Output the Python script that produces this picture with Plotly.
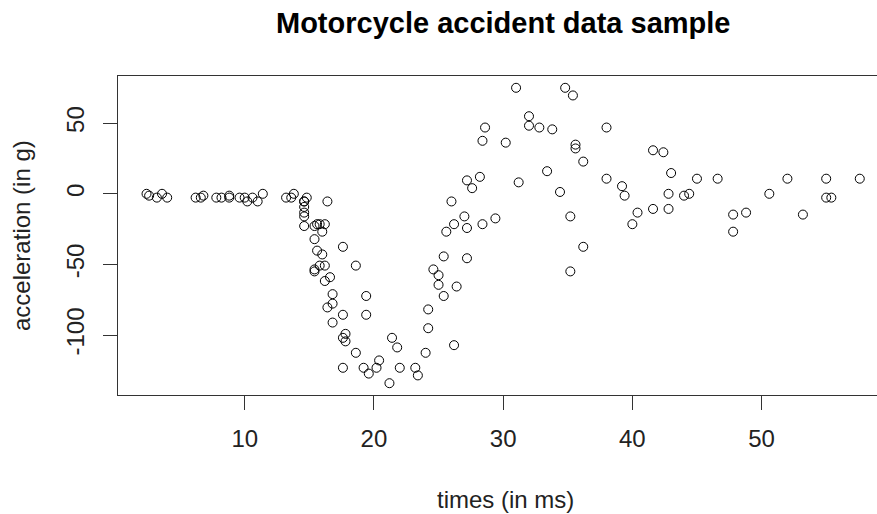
import plotly.graph_objects as go

times = [2.4, 2.6, 3.2, 3.6, 4.0, 6.2, 6.6, 6.8, 7.8, 8.2, 8.8, 8.8, 9.6, 10.0, 10.2,
         10.6, 11.0, 11.4, 13.2, 13.6, 13.8, 14.6, 14.6, 14.6, 14.6, 14.6, 14.6, 14.8,
         15.4, 15.4, 15.4, 15.4, 15.6, 15.6, 15.8, 15.8, 16.0, 16.0, 16.2, 16.2, 16.2,
         16.4, 16.4, 16.6, 16.8, 16.8, 16.8, 17.6, 17.6, 17.6, 17.6, 17.8, 17.8, 18.6,
         18.6, 19.2, 19.4, 19.4, 19.6, 20.2, 20.4, 21.2, 21.4, 21.8, 22.0, 23.2, 23.4,
         24.0, 24.2, 24.2, 24.6, 25.0, 25.0, 25.4, 25.4, 25.6, 26.0, 26.2, 26.2, 26.4,
         27.0, 27.2, 27.2, 27.2, 27.6, 28.2, 28.4, 28.4, 28.6, 29.4, 30.2, 31.0, 31.2,
         32.0, 32.0, 32.8, 33.4, 33.8, 34.4, 34.8, 35.2, 35.2, 35.4, 35.6, 35.6, 36.2,
         36.2, 38.0, 38.0, 39.2, 39.4, 40.0, 40.4, 41.6, 41.6, 42.4, 42.8, 42.8, 43.0,
         44.0, 44.4, 45.0, 46.6, 47.8, 47.8, 48.8, 50.6, 52.0, 53.2, 55.0, 55.0, 55.4,
         57.6]

accel = [0.0, -1.3, -2.7, 0.0, -2.7, -2.7, -2.7, -1.3, -2.7, -2.7, -1.3, -2.7, -2.7,
         -2.7, -5.4, -2.7, -5.4, 0.0, -2.7, -2.7, 0.0, -13.3, -5.4, -5.4, -9.3, -16.0,
         -22.8, -2.7, -22.8, -32.1, -53.5, -54.9, -40.2, -21.5, -21.5, -50.8, -42.9,
         -26.8, -21.5, -50.8, -61.7, -5.4, -80.4, -59.0, -71.0, -91.1, -77.7, -37.5,
         -85.6, -123.1, -101.9, -99.1, -104.4, -112.5, -50.8, -123.1, -85.6, -72.3,
         -127.2, -123.1, -117.9, -134.0, -101.9, -108.7, -123.1, -123.1, -128.5,
         -112.5, -95.1, -81.8, -53.5, -64.4, -57.6, -72.3, -44.3, -26.8, -5.4, -107.1,
         -21.5, -65.6, -16.0, -45.6, -24.2, 9.5, 4.0, 12.0, -21.5, 37.5, 46.9, -17.4,
         36.2, 75.0, 8.1, 54.9, 48.2, 46.9, 16.0, 45.6, 1.3, 75.0, -16.0, -54.9, 69.6,
         34.8, 32.1, -37.5, 22.8, 46.9, 10.7, 5.4, -1.3, -21.5, -13.3, 30.8, -10.7,
         29.4, 0.0, -10.7, 14.7, -1.3, 0.0, 10.7, 10.7, -26.8, -14.7, -13.3, 0.0, 10.7,
         -14.7, -2.7, 10.7, -2.7, 10.7]

x_ticks = [10, 20, 30, 40, 50]
x_tick_labels = ["10", "20", "30", "40", "50"]
y_ticks = [-100, -50, 0, 50]
y_tick_labels = ["-100", "-50", "0", "50"]

title_text = "Motorcycle accident data sample"
x_label = "times (in ms)"
y_label = "acceleration (in g)"

W, H = 877, 514
L, T, B = 118, 76, 119
full_right = 888.3  # plot region extends past the cropped right edge
PH = H - T - B

xmin, xmax = min(times), max(times)
xs = xmax - xmin
x_lo, x_hi_full = xmin - 0.04 * xs, xmax + 0.04 * xs
ppu = (full_right - L) / (x_hi_full - x_lo)
x_hi = x_lo + (W - L) / ppu

ymin, ymax = min(accel), max(accel)
ys = ymax - ymin
y_lo, y_hi = ymin - 0.04 * ys, ymax + 0.04 * ys

FONT = "Arial, Liberation Sans, sans-serif"
ink = "#222222"

def px_x(p):
    return (p - L) / (W - L)

def px_y(p):
    return (H - B - p) / PH

fig = go.Figure(go.Scatter(
    x=times, y=accel, mode="markers",
    marker=dict(symbol="circle-open", size=9, color="black", line=dict(width=1, color="black")),
    hoverinfo="x+y",
))

fig.update_layout(
    width=W, height=H,
    margin=dict(l=L, r=0, t=T, b=B, pad=0),
    paper_bgcolor="white", plot_bgcolor="white",
    showlegend=False,
    font=dict(family=FONT, size=24, color=ink),
    xaxis=dict(range=[x_lo, x_hi], tickvals=x_ticks, ticktext=x_tick_labels,
               ticks="outside", ticklen=14,
               tickwidth=1, tickcolor="#333", showline=True, mirror=True,
               linecolor="#333", linewidth=1, showgrid=False, zeroline=False,
               tickfont=dict(size=24, color=ink), ticklabelstandoff=8),
    yaxis=dict(range=[y_lo, y_hi], tickvals=y_ticks, ticktext=y_tick_labels,
               ticks="outside", ticklen=14,
               tickwidth=1, tickcolor="#333", showline=True, mirror=False,
               linecolor="#333", linewidth=1, showgrid=False, zeroline=False,
               tickangle=-90, tickfont=dict(size=24, color=ink), ticklabelstandoff=9),
    annotations=[
        dict(text="<b>" + title_text + "</b>", xref="paper", yref="paper",
             x=px_x((L + full_right) / 2), y=px_y(23),
             xanchor="center", yanchor="middle", showarrow=False,
             font=dict(size=29, color="black", family=FONT)),
        dict(text=x_label, xref="paper", yref="paper",
             x=px_x(505), y=px_y(499),
             xanchor="center", yanchor="middle", showarrow=False,
             font=dict(size=24, color=ink, family=FONT)),
        dict(text=y_label, xref="paper", yref="paper",
             x=px_x(22), y=px_y(236), textangle=-90,
             xanchor="center", yanchor="middle", showarrow=False,
             font=dict(size=24, color=ink, family=FONT)),
    ],
)

fig.write_html("out.html")
